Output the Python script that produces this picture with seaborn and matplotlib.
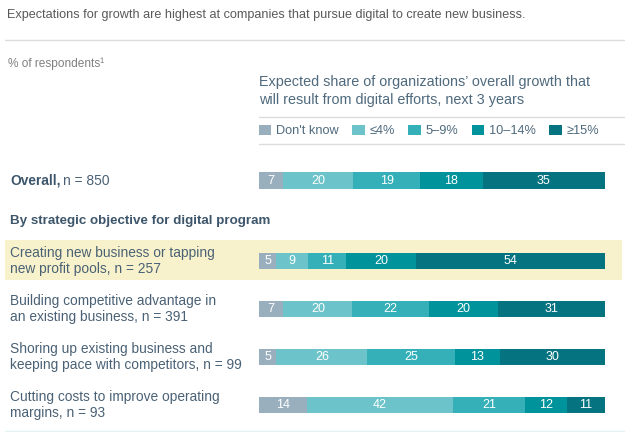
import matplotlib
matplotlib.use("Agg")
import matplotlib.pyplot as plt
import seaborn as sns
import pandas as pd
from matplotlib.patches import Rectangle, Patch
from matplotlib.lines import Line2D
from matplotlib.transforms import blended_transform_factory

# --- dados ---
categories = ["Don't know", "≤4%", "5–9%", "10–14%", "≥15%"]
colors = ["#9aafbd", "#6cc4ca", "#35b0b9", "#00939b", "#067480"]

overall_label = ["Overall"]
overall_values = [[7, 20, 19, 18, 35]]

objective_labels = [
    "Creating new business or tapping\nnew profit pools, n = 257",
    "Building competitive advantage in\nan existing business, n = 391",
    "Shoring up existing business and\nkeeping pace with competitors, n = 99",
    "Cutting costs to improve operating\nmargins, n = 93",
]
creating_values = [5, 9, 11, 20, 54]
building_values = [7, 20, 22, 20, 31]
shoring_values = [5, 26, 25, 13, 30]
cutting_values = [14, 42, 21, 12, 11]

W, H = 629, 432
sns.set_theme(style="white")
plt.rcParams["font.family"] = ["Liberation Sans", "DejaVu Sans"]

fig = plt.figure(figsize=(W / 100, H / 100), dpi=100)

LABEL_COLOR = "#4a6175"
HEAD_COLOR = "#3d566b"


def fx(x):
    return x / W


def fy(y):
    return 1 - y / H


def hline(y, x0, x1, color="#dddddd", lw=1.0):
    fig.add_artist(Line2D([fx(x0), fx(x1)], [fy(y), fy(y)], color=color, lw=lw,
                          transform=fig.transFigure))


# fundo amarelo da linha destacada
fig.add_artist(Rectangle((fx(5), fy(280)), fx(622) - fx(5), fy(240) - fy(280),
                         transform=fig.transFigure, color="#f8f2cc", lw=0, zorder=0))

# titulo e textos de cabecalho
fig.text(fx(7), fy(15), "Expectations for growth are highest at companies that pursue digital to create new business.",
         fontsize=9.1, color="#595959", va="center")
hline(40, 5, 624)
fig.text(fx(8), fy(64), "% of respondents¹", fontsize=8.6, color="#808080", va="center")
fig.text(fx(259), fy(91), "Expected share of organizations’ overall growth that\nwill result from digital efforts, next 3 years",
         fontsize=10.4, color="#4f6a7d", va="center", linespacing=1.3)
hline(117, 259, 624)
hline(144, 259, 624)
hline(431, 5, 624, color="#e3f1f1")

handles = [Patch(facecolor=c, edgecolor="none") for c in colors]
fig.legend(handles, categories, loc="center left", bbox_to_anchor=(fx(259), fy(131)),
           ncol=5, frameon=False, fontsize=9.2, handlelength=0.95, handleheight=0.8,
           handletextpad=0.4, columnspacing=1.05, labelcolor="#4f6a7d", borderaxespad=0,
           borderpad=0)


def draw_stack(ax, labels, rows):
    df = pd.DataFrame(rows, columns=categories)
    df["label"] = labels
    share = df[categories].div(df[categories].sum(axis=1), axis=0) * 100
    cum = share.cumsum(axis=1)
    for cat, col in reversed(list(zip(categories, colors))):
        sns.barplot(x=cum[cat].values, y=list(range(len(labels))), orient="h", color=col,
                    saturation=1, width=0.354, linewidth=0, errorbar=None, ax=ax)
    for i in range(len(labels)):
        for cat in categories:
            center = cum.loc[i, cat] - share.loc[i, cat] / 2
            ax.text(center, i, str(df.loc[i, cat]), ha="center", va="center",
                    color="white", fontsize=9)
    ax.set_xlim(0, 100)
    ax.set_ylim(len(labels) - 0.5, -0.5)
    ax.axis("off")


# barra geral
ax1 = fig.add_axes([fx(259), fy(204.5), fx(346), 48 / H])
draw_stack(ax1, overall_label, overall_values)

# barras por objetivo
ax2 = fig.add_axes([fx(259), fy(429), fx(346), 192 / H])
draw_stack(ax2, objective_labels,
           [creating_values, building_values, shoring_values, cutting_values])

# rotulos das linhas
renderer = fig.canvas.get_renderer()
t = fig.text(fx(10), fy(181), "Overall,", fontsize=9.9, fontweight="bold", color=HEAD_COLOR, va="center")
bb = t.get_window_extent(renderer)
fig.text(bb.x1 / fig.bbox.width + fx(3), fy(181), "n = 850", fontsize=9.9, color=LABEL_COLOR, va="center")

fig.text(fx(10), fy(221), "By strategic objective for digital program", fontsize=9.6,
         fontweight="bold", color=HEAD_COLOR, va="center")

trans = blended_transform_factory(fig.transFigure, ax2.transData)
for i, lab in enumerate(objective_labels):
    ax2.text(fx(10), i, lab, transform=trans, fontsize=9.9, color=LABEL_COLOR,
             va="center", ha="left", linespacing=1.2)

fig.savefig("out.png", dpi=100)
